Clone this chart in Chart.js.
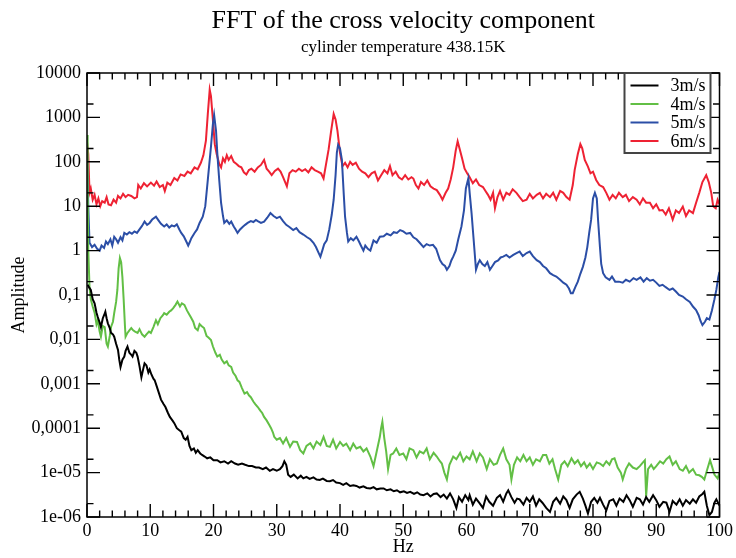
<!DOCTYPE html>
<html><head><meta charset="utf-8">
<script src="https://cdn.jsdelivr.net/npm/chart.js@4/dist/chart.umd.min.js"></script>
<style>html,body{margin:0;padding:0;background:#fff}canvas{display:block}</style>
</head><body>
<canvas id="c" width="736" height="558"></canvas>
<script>
// ---- data: [frequency (Hz), amplitude] ----
const seriesLabels = ['3m/s', '4m/s', '5m/s', '6m/s'];
const seriesColors = ['#000000', '#62bf45', '#2b4ea6', '#ee2233'];

const s3 = [
[0.1,0.17],[0.3,0.15],[0.6,0.13],[0.9,0.08],[1.2,0.065],[1.5,0.04],[1.7,0.032],[2.0,0.024],[2.2,0.019],[2.5,0.03],
[2.7,0.035],[2.9,0.042],[3.1,0.03],[3.3,0.023],[3.6,0.018],[3.8,0.014],[4.1,0.013],[4.3,0.0115],[4.6,0.008],[4.9,0.0058],
[5.1,0.0035],[5.3,0.0024],[5.6,0.0035],[5.9,0.0041],[6.1,0.0055],[6.4,0.0069],[6.7,0.005],[7.0,0.0045],[7.2,0.0041],[7.5,0.0055],
[7.8,0.005],[8.0,0.0041],[8.3,0.0025],[8.6,0.0014],[8.9,0.0022],[9.1,0.0029],[9.4,0.0026],[9.7,0.0018],[9.9,0.0021],[10.2,0.0016],
[10.5,0.0013],[10.7,0.0012],[11.0,0.0009],[11.4,0.0006],[11.7,0.00044],[12.1,0.00035],[12.4,0.0003],[12.8,0.00022],[13.1,0.00018],[13.5,0.00015],
[13.8,0.00013],[14.2,0.0001],[14.6,0.00009],[14.9,0.000084],[15.3,0.00006],[15.6,0.000055],[15.9,0.000064],[16.2,0.00004],[16.5,0.000032],[16.9,0.000035],
[17.2,0.000028],[17.5,0.000032],[17.9,0.000027],[18.2,0.000025],[18.6,0.000023],[19.0,0.000021],[19.5,0.000022],[20.0,0.000019],[20.6,0.000019],[21.1,0.000017],
[21.7,0.000018],[22.3,0.000016],[22.8,0.000018],[23.4,0.000016],[23.9,0.000015],[24.5,0.000016],[25.0,0.000015],[25.6,0.000014],[26.1,0.000014],[26.7,0.000013],
[27.2,0.000013],[27.8,0.000012],[28.3,0.000013],[28.9,0.000011],[29.4,0.000012],[30.0,0.000011],[30.5,0.000012],[30.9,0.000014],[31.2,0.000018],[31.5,0.000015],
[31.8,0.000009],[32.2,0.000008],[32.7,0.000009],[33.3,0.0000074],[33.8,0.0000085],[34.2,0.0000074],[34.7,0.000008],[35.2,0.0000072],[35.8,0.0000078],[36.3,0.000007],
[36.8,0.0000068],[37.3,0.0000073],[37.9,0.0000065],[38.4,0.0000064],[38.9,0.0000068],[39.4,0.000006],[40.0,0.0000058],[40.5,0.0000053],[41.0,0.0000058],[41.6,0.000005],
[42.1,0.0000052],[42.6,0.000005],[43.1,0.0000046],[43.7,0.0000049],[44.2,0.0000045],[44.8,0.0000044],[45.3,0.0000047],[45.8,0.0000042],[46.4,0.0000044],[46.9,0.0000044],
[47.4,0.000004],[48.0,0.0000042],[48.5,0.0000038],[49.0,0.000004],[49.5,0.0000036],[50.1,0.0000038],[50.6,0.0000035],[51.1,0.0000037],[51.7,0.0000033],[52.2,0.0000036],
[52.7,0.0000032],[53.2,0.0000031],[53.8,0.0000034],[54.3,0.0000029],[54.8,0.0000033],[55.3,0.0000034],[55.9,0.0000028],[56.4,0.0000032],[56.9,0.0000026],[57.4,0.0000034],
[57.9,0.0000025],[58.4,0.0000016],[58.8,0.0000028],[59.3,0.0000022],[59.8,0.0000031],[60.3,0.0000024],[60.5,0.0000031],[61.0,0.0000019],[61.5,0.0000026],[62.0,0.0000021],
[62.6,0.0000016],[63.1,0.0000029],[63.6,0.0000022],[64.2,0.0000018],[64.8,0.0000027],[65.3,0.0000031],[65.8,0.0000022],[66.3,0.0000034],[66.6,0.000004],[67.1,0.0000028],
[67.6,0.0000021],[68.0,0.0000026],[68.4,0.0000025],[69.0,0.0000019],[69.5,0.0000027],[70.0,0.0000022],[70.5,0.0000029],[71.0,0.0000018],[71.5,0.0000025],[72.0,0.0000021],
[72.6,0.0000016],[73.2,0.0000013],[73.7,0.0000022],[74.2,0.0000027],[74.8,0.000002],[75.3,0.0000029],[75.8,0.0000024],[76.3,0.0000016],[76.8,0.0000025],[77.4,0.0000032],
[77.9,0.0000037],[78.4,0.0000026],[78.8,0.0000018],[79.2,0.0000012],[79.7,0.0000022],[80.2,0.0000027],[80.7,0.0000021],[81.1,0.0000027],[81.6,0.0000019],[82.1,0.0000014],
[82.6,0.0000023],[83.2,0.0000025],[83.7,0.0000018],[84.2,0.0000026],[84.8,0.0000022],[85.3,0.0000031],[85.8,0.0000024],[86.3,0.0000017],[86.9,0.0000027],[87.4,0.0000025],
[87.9,0.0000019],[88.4,0.0000028],[88.9,0.0000022],[89.5,0.0000031],[90.0,0.0000024],[90.5,0.0000017],[91.1,0.0000022],[91.6,0.0000021],[92.1,0.0000013],[92.6,0.0000023],
[93.2,0.0000019],[93.7,0.0000025],[94.2,0.0000018],[94.7,0.0000024],[95.3,0.000002],[95.8,0.0000025],[96.3,0.0000021],[96.8,0.0000029],[97.3,0.0000033],[97.6,0.0000037],
[98.0,0.0000018],[98.4,0.0000011],[98.8,0.0000013],[99.2,0.0000021],[99.5,0.0000025],[100,0.0000018]
];

const s4 = [
[0,400],[0.1,30],[0.2,1.0],[0.4,0.15],[0.6,0.08],[0.9,0.055],[1.2,0.04],[1.5,0.022],[1.7,0.027],[2.0,0.015],
[2.2,0.0115],[2.5,0.02],[2.8,0.019],[3.1,0.008],[3.3,0.0069],[3.6,0.012],[3.8,0.019],[4.1,0.025],[4.3,0.039],[4.6,0.07],
[4.8,0.13],[5.0,0.4],[5.2,0.68],[5.4,0.55],[5.6,0.25],[5.8,0.077],[6.0,0.02],[6.1,0.0115],[6.4,0.014],[6.7,0.016],
[7.0,0.018],[7.3,0.016],[7.6,0.015],[8.0,0.014],[8.3,0.017],[8.7,0.013],[9.1,0.0115],[9.4,0.013],[9.8,0.015],[10.1,0.014],
[10.5,0.019],[10.9,0.027],[11.2,0.022],[11.6,0.03],[12.0,0.035],[12.2,0.039],[12.6,0.036],[13.0,0.042],[13.3,0.045],[13.6,0.05],
[14.0,0.06],[14.3,0.071],[14.7,0.055],[15.0,0.065],[15.4,0.06],[15.8,0.045],[16.1,0.038],[16.4,0.032],[16.8,0.025],[17.1,0.018],
[17.5,0.016],[17.8,0.022],[18.1,0.02],[18.5,0.018],[18.9,0.012],[19.2,0.011],[19.6,0.0097],[19.9,0.007],[20.3,0.005],[20.6,0.0041],
[21.0,0.0045],[21.3,0.0035],[21.7,0.0029],[22.1,0.0032],[22.4,0.0026],[22.8,0.0024],[23.1,0.0018],[23.5,0.0015],[23.8,0.0012],[24.1,0.0011],
[24.5,0.0008],[24.9,0.0006],[25.3,0.00065],[25.6,0.00055],[25.9,0.0005],[26.3,0.0004],[26.6,0.00035],[27.0,0.0003],[27.4,0.00025],[27.7,0.00022],
[28.0,0.00018],[28.4,0.00015],[28.8,0.00012],[29.1,0.0001],[29.4,0.00008],[29.6,0.000064],[30.0,0.000055],[30.5,0.00006],[31.0,0.000045],[31.5,0.00006],
[32.1,0.000038],[32.6,0.00005],[33.2,0.000049],[33.7,0.000032],[34.2,0.000027],[34.7,0.00004],[35.3,0.000046],[35.8,0.000035],[36.3,0.00005],[36.9,0.000042],
[37.4,0.000064],[37.9,0.00004],[38.4,0.000038],[38.9,0.000055],[39.4,0.000035],[40.0,0.000049],[40.5,0.00004],[41.0,0.000045],[41.6,0.000032],[42.1,0.000045],
[42.6,0.000035],[43.2,0.000038],[43.7,0.00003],[44.2,0.000035],[44.8,0.000023],[45.3,0.000014],[45.8,0.00003],[46.3,0.000064],[46.5,0.0001],[46.7,0.00014],
[47.0,0.00006],[47.3,0.00003],[47.6,0.000012],[48.0,0.000025],[48.4,0.000027],[48.9,0.000035],[49.4,0.000025],[50.0,0.000027],[50.5,0.00002],[51.0,0.000035],
[51.6,0.000032],[52.1,0.000022],[52.6,0.00003],[53.2,0.000027],[53.7,0.000035],[54.2,0.00002],[54.8,0.000028],[55.3,0.000023],[55.8,0.000018],[56.1,0.000016],
[56.5,0.00001],[56.9,0.000007],[57.3,0.000015],[57.9,0.000023],[58.4,0.00002],[59.0,0.000028],[59.5,0.000018],[60.0,0.000023],[60.5,0.00002],[61.0,0.00003],
[61.6,0.000018],[62.1,0.000027],[62.6,0.000022],[63.2,0.000012],[63.7,0.00002],[64.3,0.000015],[64.8,0.000016],[65.3,0.000025],[65.8,0.000035],[66.3,0.00002],
[66.8,0.000015],[67.1,0.000007],[67.5,0.000015],[68.0,0.000022],[68.5,0.000018],[69.0,0.000025],[69.5,0.000018],[70.0,0.000022],[70.5,0.000015],[71.0,0.00002],
[71.6,0.000018],[72.1,0.000025],[72.6,0.000025],[73.1,0.000016],[73.6,0.00002],[74.0,0.000012],[74.5,0.000007],[75.0,0.000015],[75.5,0.000018],[76.0,0.000014],
[76.6,0.000021],[77.1,0.000016],[77.6,0.000019],[78.1,0.000014],[78.6,0.000017],[79.0,0.000013],[79.5,0.000016],[80.0,0.000012],[80.6,0.000017],[81.1,0.000016],
[81.6,0.000014],[82.1,0.000018],[82.6,0.000015],[83.0,0.00002],[83.4,0.000021],[83.9,0.000013],[84.4,0.00001],[84.7,0.000007],[85.2,0.000012],[85.7,0.000016],
[86.3,0.000013],[86.9,0.000012],[87.4,0.000014],[87.9,0.000017],[88.2,0.000019],[88.4,0.0000029],[88.7,0.000012],[89.2,0.000015],[89.6,0.000012],[90.0,0.000014],
[90.6,0.000018],[91.1,0.000016],[91.6,0.00002],[92.1,0.000023],[92.6,0.000015],[93.1,0.000018],[93.7,0.000012],[94.2,0.000011],[94.7,0.000014],[95.2,0.00001],
[95.8,0.000012],[96.3,0.000009],[96.8,0.0000087],[97.2,0.000008],[97.6,0.000007],[98.0,0.000011],[98.5,0.000019],[98.8,0.000014],[99.2,0.000009],[99.7,0.0000074],
[100,0.00001]
];

const s5 = [
[0,300],[0.2,10],[0.4,1.5],[0.8,1.2],[1.2,1.35],[1.6,1.1],[2.0,1.0],[2.3,1.3],[2.7,1.15],[3.0,1.6],
[3.3,1.4],[3.7,1.8],[4.0,1.3],[4.3,2.05],[4.6,1.8],[4.9,1.5],[5.3,2.0],[5.6,1.7],[5.9,2.5],[6.3,2.3],
[6.7,2.6],[7.1,2.4],[7.5,2.7],[7.9,2.5],[8.3,3.0],[8.7,3.6],[9.1,4.5],[9.5,3.8],[9.9,4.2],[10.3,5.0],
[10.9,5.8],[11.3,4.8],[11.7,4.0],[12.2,3.5],[12.6,3.9],[13.0,3.3],[13.4,3.7],[13.8,3.5],[14.2,3.9],[14.6,3.0],
[14.9,2.5],[15.3,2.1],[15.7,1.6],[16.0,1.3],[16.2,1.5],[16.5,1.9],[17.0,2.5],[17.4,3.0],[17.8,4.2],[18.3,5.8],
[18.7,10],[19.1,39],[19.4,110],[19.6,220],[19.9,700],[20.1,1130],[20.4,500],[20.6,157],[20.9,40],[21.2,11.8],
[21.5,6],[21.7,4.2],[22.1,4.8],[22.5,4.0],[22.8,4.5],[23.2,3.5],[23.5,3.0],[23.8,2.5],[24.2,3.0],[24.6,3.4],
[25.0,3.8],[25.4,4.2],[25.9,4.6],[26.3,4.4],[26.7,4.9],[27.0,4.6],[27.5,4.2],[28.0,4.5],[28.5,5.5],[29.0,7.0],
[29.5,6.0],[30.0,5.4],[30.5,5.8],[31.0,4.6],[31.5,3.8],[32.0,3.4],[32.6,2.9],[33.1,3.2],[33.6,2.6],[34.2,2.3],
[34.8,2.0],[35.3,1.8],[35.8,1.5],[36.2,1.2],[36.6,0.9],[36.9,0.73],[37.2,1.0],[37.5,1.4],[37.9,1.7],[38.3,3.0],
[38.7,6.5],[39.0,14],[39.3,50],[39.5,160],[39.7,240],[40.0,200],[40.3,110],[40.6,18],[40.8,5.8],[41.1,2.5],
[41.3,1.6],[41.7,1.9],[42.1,1.7],[42.6,2.05],[43.0,1.6],[43.3,1.3],[43.7,1.0],[44.0,1.3],[44.4,1.1],[44.8,1.0],
[45.3,1.7],[45.8,1.5],[46.3,2.05],[46.9,2.1],[47.4,2.4],[48.0,2.2],[48.5,2.6],[49.0,2.5],[49.5,2.9],[50.0,2.7],
[50.5,2.4],[51.1,2.5],[51.6,2.0],[52.1,1.8],[52.6,1.5],[53.2,1.2],[53.7,1.4],[54.2,1.3],[54.7,1.35],[55.2,1.1],
[55.8,0.61],[56.2,0.5],[56.6,0.45],[56.9,0.37],[57.3,0.45],[57.6,0.6],[57.9,0.73],[58.3,1.0],[58.7,1.8],[59.2,3.5],
[59.6,8],[59.9,25],[60.1,33],[60.3,43],[60.5,20],[60.8,7],[61.1,2],[61.5,0.37],[61.8,0.5],[62.1,0.61],
[62.5,0.5],[62.9,0.45],[63.3,0.55],[63.7,0.37],[64.1,0.45],[64.5,0.55],[65.0,0.6],[65.4,0.7],[65.8,0.73],[66.3,0.8],
[66.8,0.7],[67.4,0.8],[67.9,0.88],[68.4,0.95],[68.9,0.75],[69.5,0.88],[70.0,0.95],[70.5,0.75],[71.1,0.61],[71.6,0.55],
[72.1,0.45],[72.6,0.4],[73.2,0.31],[73.7,0.28],[74.2,0.26],[74.8,0.22],[75.3,0.19],[75.8,0.17],[76.2,0.14],[76.5,0.11],
[76.8,0.11],[77.2,0.15],[77.6,0.2],[78.0,0.3],[78.4,0.43],[78.8,0.7],[79.1,1.2],[79.4,2.5],[79.7,4.9],[80.0,15],
[80.3,20],[80.6,15],[80.8,4.9],[81.1,1.2],[81.3,0.5],[81.6,0.31],[82.0,0.25],[82.6,0.22],[83.0,0.26],[83.5,0.2],
[84.1,0.2],[84.7,0.19],[85.2,0.22],[85.8,0.2],[86.4,0.24],[86.9,0.22],[87.5,0.25],[88.0,0.2],[88.5,0.24],[89.0,0.21],
[89.5,0.22],[90.0,0.19],[90.5,0.16],[91.0,0.17],[91.5,0.15],[92.1,0.13],[92.6,0.14],[93.1,0.12],[93.6,0.1],[94.2,0.092],
[94.7,0.08],[95.3,0.07],[95.8,0.055],[96.3,0.046],[96.7,0.035],[97.0,0.026],[97.3,0.021],[97.7,0.025],[98.0,0.03],[98.4,0.028],
[98.8,0.045],[99.2,0.08],[99.5,0.13],[99.8,0.25],[100,0.33]
];

const s6 = [
[0,280],[0.2,150],[0.4,20],[0.6,25],[0.9,14],[1.2,18],[1.5,11],[1.8,15],[2.1,10],[2.4,13],
[2.8,12],[3.1,16],[3.4,11],[3.8,10.5],[4.2,14],[4.6,12],[4.9,17],[5.3,15],[5.7,19],[6.1,16],
[6.5,18],[7.0,17],[7.5,15],[7.9,16],[8.1,30],[8.5,25],[9.0,33],[9.5,28],[10.1,34],[10.6,29],
[11.0,36],[11.5,27],[12.0,30],[12.3,22],[12.7,34],[13.2,30],[13.8,43],[14.3,38],[14.8,52],[15.4,48],
[15.9,60],[16.4,55],[17.0,75],[17.5,68],[18.0,95],[18.4,140],[18.8,300],[19.1,1200],[19.4,4200],[19.6,3000],
[19.9,900],[20.2,250],[20.5,150],[20.9,90],[21.2,75],[21.5,120],[21.8,100],[22.1,140],[22.4,110],[22.8,135],
[23.2,100],[23.6,90],[24.0,80],[24.4,75],[24.8,58],[25.2,52],[25.6,65],[26.0,70],[26.5,60],[27.0,75],
[27.5,85],[28.0,110],[28.4,70],[28.8,60],[29.2,50],[29.7,62],[30.2,70],[30.6,60],[31.0,45],[31.6,28],
[32.0,55],[32.5,65],[33.0,60],[33.5,70],[34.0,62],[34.5,68],[35.0,58],[35.5,75],[36.0,65],[36.5,60],
[37.0,55],[37.4,42],[37.8,90],[38.2,190],[38.6,500],[39.0,1200],[39.3,900],[39.6,500],[40.0,160],[40.4,80],
[40.8,95],[41.2,75],[41.6,100],[42.0,85],[42.5,95],[43.0,70],[43.5,60],[44.0,55],[44.5,45],[45.0,55],
[45.5,60],[46.0,38],[46.5,50],[47.0,65],[47.5,55],[47.9,80],[48.3,50],[48.8,60],[49.3,45],[49.8,40],
[50.3,50],[50.8,40],[51.3,45],[51.6,42],[52.0,30],[52.4,25],[52.8,35],[53.3,30],[53.8,38],[54.3,28],
[54.8,25],[55.3,23],[55.8,18],[56.2,14],[56.7,20],[57.1,25],[57.5,40],[57.9,75],[58.3,180],[58.6,290],
[58.9,200],[59.3,120],[59.7,70],[60.1,55],[60.5,45],[61.0,33],[61.5,40],[62.0,30],[62.6,27],[63.0,22],
[63.4,18],[63.8,14],[64.2,20],[64.5,9],[64.9,16],[65.3,22],[65.8,14],[66.3,20],[66.8,18],[67.3,24],
[67.9,20],[68.4,16],[68.9,13],[69.5,14],[70.0,19],[70.5,15],[71.1,18],[71.6,20],[72.1,15],[72.6,19],
[73.2,16],[73.7,20],[74.2,14],[74.8,22],[75.3,20],[75.8,16],[76.3,14],[76.8,30],[77.1,65],[77.6,150],
[78.0,250],[78.3,200],[78.7,110],[79.2,78],[79.6,55],[80.0,60],[80.5,39],[81.0,30],[81.6,27],[82.1,20],
[82.6,14],[83.1,18],[83.6,15],[84.1,20],[84.7,16],[85.2,18],[85.7,13],[86.3,16],[86.9,14],[87.4,11],
[87.9,15],[88.4,12],[89.0,12],[89.5,9],[90.0,11],[90.5,8],[91.0,8.2],[91.5,6.5],[92.0,9],[92.6,5],
[93.1,8],[93.6,7],[94.2,9.8],[94.7,6],[95.2,8],[95.8,7],[96.3,12],[96.8,20],[97.3,35],[97.9,50],
[98.3,35],[98.7,20],[99.0,10],[99.4,9],[99.7,14],[100,11]
];

// ---- axis ticks ----
const xTickValues = [0, 10, 20, 30, 40, 50, 60, 70, 80, 90, 100];
const xMinorTicks = [2,4,6,8,12,14,16,18,22,24,26,28,32,34,36,38,42,44,46,48,52,54,56,58,62,64,66,68,72,74,76,78,82,84,86,88,92,94,96,98];
const yTickValues = [1e-6, 1e-5, 1e-4, 1e-3, 1e-2, 1e-1, 1, 10, 100, 1000, 10000];
const yTickLabels = ['1e-06', '1e-05', '0,0001', '0,001', '0,01', '0,1', '1', '10', '100', '1000', '10000'];
const yMinorTicks = [2e-6, 2e-5, 2e-4, 2e-3, 2e-2, 2e-1, 2, 20, 200, 2000];

const FONT = "'Liberation Serif','Times New Roman',serif";
const toPoints = s => s.map(p => ({x: p[0], y: p[1]}));

const frameAndTicks = {
  id: 'frameAndTicks',
  afterDatasetsDraw(chart) {
    const {ctx, chartArea: {left, right, top, bottom}, scales: {x, y}} = chart;
    ctx.save();
    ctx.strokeStyle = '#000';
    ctx.lineWidth = 1.4;
    ctx.beginPath();
    const maj = 13, mino = 6.5;
    xTickValues.forEach(v => { const p = x.getPixelForValue(v);
      ctx.moveTo(p, bottom); ctx.lineTo(p, bottom - maj); ctx.moveTo(p, top); ctx.lineTo(p, top + maj); });
    xMinorTicks.forEach(v => { const p = x.getPixelForValue(v);
      ctx.moveTo(p, bottom); ctx.lineTo(p, bottom - mino); ctx.moveTo(p, top); ctx.lineTo(p, top + mino); });
    yTickValues.forEach(v => { const p = y.getPixelForValue(v);
      ctx.moveTo(left, p); ctx.lineTo(left + maj, p); ctx.moveTo(right, p); ctx.lineTo(right - maj, p); });
    yMinorTicks.forEach(v => { const p = y.getPixelForValue(v);
      ctx.moveTo(left, p); ctx.lineTo(left + mino, p); ctx.moveTo(right, p); ctx.lineTo(right - mino, p); });
    ctx.stroke();
    ctx.lineWidth = 1.5;
    ctx.strokeRect(left, top, right - left, bottom - top);
    ctx.restore();
  },
  afterDraw(chart) {
    const {ctx, chartArea: {right, top}} = chart;
    const bx = right - 95, by = top, bw = 86, bh = 80;
    ctx.save();
    ctx.fillStyle = '#fff';
    ctx.fillRect(bx, by, bw, bh);
    ctx.strokeStyle = '#444';
    ctx.lineWidth = 2;
    ctx.strokeRect(bx, by, bw, bh);
    ctx.font = '18px ' + FONT;
    ctx.textAlign = 'right';
    ctx.textBaseline = 'middle';
    chart.data.datasets.forEach((ds, i) => {
      const ry = by + 12.5 + i * 18.5;
      ctx.strokeStyle = ds.borderColor;
      ctx.lineWidth = 2;
      ctx.beginPath(); ctx.moveTo(bx + 6, ry); ctx.lineTo(bx + 34, ry); ctx.stroke();
      ctx.fillStyle = '#000';
      ctx.fillText(ds.label, bx + bw - 5, ry + 1);
    });
    ctx.restore();
  }
};

new Chart(document.getElementById('c'), {
  type: 'line',
  data: {
    datasets: [s3, s4, s5, s6].map((s, i) => ({
      label: seriesLabels[i],
      data: toPoints(s),
      borderColor: seriesColors[i],
      backgroundColor: seriesColors[i],
      borderWidth: 2,
      pointRadius: 0,
      tension: 0,
      fill: false
    }))
  },
  options: {
    responsive: false,
    animation: false,
    devicePixelRatio: 1,
    layout: {padding: {left: 0, right: 16, top: 0, bottom: 0}},
    plugins: {
      legend: {display: false},
      tooltip: {enabled: false},
      title: {display: true, text: 'FFT of the cross velocity component', fullSize: false, color: '#000',
              font: {family: FONT, size: 26, weight: 'normal'}, padding: {top: 6, bottom: 0}},
      subtitle: {display: true, text: 'cylinder temperature 438.15K', fullSize: false, color: '#000',
              font: {family: FONT, size: 17, weight: 'normal'}, padding: {top: 0, bottom: 15.4}}
    },
    scales: {
      x: {
        type: 'linear', min: 0, max: 100,
        afterBuildTicks: s => { s.ticks = xTickValues.map(v => ({value: v})); },
        afterFit: s => { s.height = 41; },
        ticks: {color: '#000', font: {family: FONT, size: 18}, padding: 3, maxRotation: 0, autoSkip: false,
                callback: v => String(v)},
        grid: {display: false, drawTicks: false},
        border: {display: false},
        title: {display: true, text: 'Hz', color: '#000', font: {family: FONT, size: 18}, padding: {top: 0, bottom: 0}}
      },
      y: {
        type: 'logarithmic', min: 1e-6, max: 1e4,
        afterBuildTicks: s => { s.ticks = yTickValues.map(v => ({value: v})); },
        afterFit: s => { s.width = 87; },
        ticks: {color: '#000', font: {family: FONT, size: 18}, padding: 6, autoSkip: false,
                callback: (v, i) => yTickLabels[i]},
        grid: {display: false, drawTicks: false},
        border: {display: false},
        title: {display: true, text: 'Amplitude', color: '#000', font: {family: FONT, size: 18}, padding: {top: 8, bottom: 0}}
      }
    }
  },
  plugins: [frameAndTicks]
});
</script>
</body></html>
